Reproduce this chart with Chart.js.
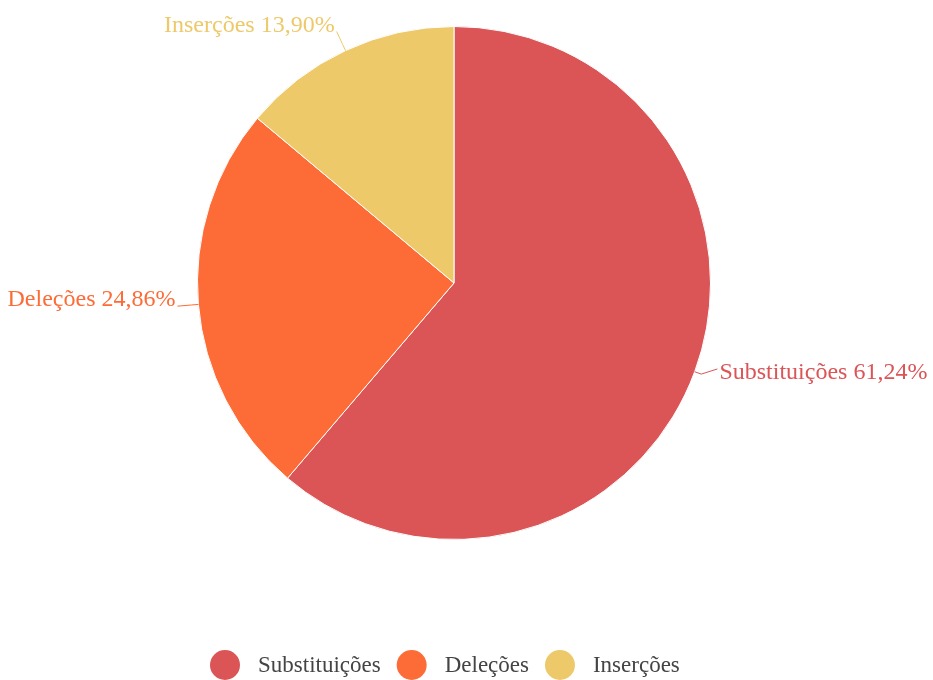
<!DOCTYPE html>
<html>
<head>
<meta charset="utf-8">
<title>Tipos de erro</title>
<script src="https://cdn.jsdelivr.net/npm/chart.js@4.4.1/dist/chart.umd.min.js"></script>
<style>
  html, body { margin: 0; padding: 0; background: #fff; }
  canvas { display: block; }
</style>
</head>
<body>
<canvas id="erroChart" width="933" height="680"></canvas>
<script>
const categorias = ['Substituições', 'Deleções', 'Inserções'];
const percentuais = [61.24, 24.86, 13.90];
const cores = ['#DB5456', '#FD6B36', '#EDC96A'];

const fonteSerif = '"Liberation Serif", serif';

function formataPct(v) {
    return v.toFixed(2).replace('.', ',') + '%';
}

// rótulos externos com linha guia, na cor de cada fatia
const rotulosExternos = {
    id: 'rotulosExternos',
    afterDatasetsDraw(chart) {
        const ctx = chart.ctx;
        const arcs = chart.getDatasetMeta(0).data;
        ctx.save();
        ctx.font = '24px ' + fonteSerif;
        arcs.forEach((arc, i) => {
            const p = arc.getProps(['x', 'y', 'startAngle', 'endAngle', 'outerRadius'], true);
            const meio = (p.startAngle + p.endAngle) / 2;
            const dx = Math.cos(meio), dy = Math.sin(meio);
            const direita = dx >= 0;
            const x1 = p.x + dx * p.outerRadius, y1 = p.y + dy * p.outerRadius;
            const xm = p.x + dx * (p.outerRadius + 7), ym = p.y + dy * (p.outerRadius + 7);
            const x2 = p.x + dx * (p.outerRadius + 21), y2 = p.y + dy * (p.outerRadius + 21);
            ctx.strokeStyle = cores[i];
            ctx.lineWidth = 1;
            ctx.beginPath();
            ctx.moveTo(x1, y1);
            ctx.lineTo(xm, ym);
            // do lado direito a linha sobe até o meio do texto
            ctx.lineTo(x2 + (direita ? 3 : 0), direita ? y2 - 10 : y2);
            ctx.stroke();
            ctx.fillStyle = cores[i];
            ctx.textAlign = direita ? 'left' : 'right';
            ctx.textBaseline = 'alphabetic';
            const texto = categorias[i] + ' ' + formataPct(percentuais[i]);
            ctx.fillText(texto, x2 + (direita ? 5 : -2), y2);
        });
        ctx.restore();
    }
};

// legenda desenhada à mão, com círculos grandes
const legendaCirculos = {
    id: 'legendaCirculos',
    afterDraw(chart) {
        const ctx = chart.ctx;
        ctx.save();
        ctx.font = '23px ' + fonteSerif;
        const raio = 15, gapTexto = 33, gapItem = 31;
        let x = 210;
        const y = 665;
        categorias.forEach((c, i) => {
            const cx = x + raio;
            ctx.fillStyle = cores[i];
            ctx.beginPath();
            ctx.arc(cx, y, raio, 0, Math.PI * 2);
            ctx.fill();
            ctx.fillStyle = '#444';
            ctx.textAlign = 'left';
            ctx.textBaseline = 'middle';
            ctx.fillText(c, cx + gapTexto, y + 1);
            x = cx + gapTexto + ctx.measureText(c).width + gapItem - raio;
        });
        ctx.restore();
    }
};

Chart.defaults.font.family = fonteSerif;

new Chart(document.getElementById('erroChart'), {
    type: 'pie',
    data: {
        labels: categorias,
        datasets: [{
            data: percentuais,
            backgroundColor: cores,
            borderColor: '#fff',
            borderWidth: 1,
            hoverOffset: 0
        }]
    },
    options: {
        responsive: false,
        devicePixelRatio: 1,
        animation: false,
        layout: {
            padding: { left: 197, right: 222, top: 26, bottom: 140 }
        },
        plugins: {
            legend: { display: false },
            tooltip: { enabled: false }
        }
    },
    plugins: [rotulosExternos, legendaCirculos]
});
</script>
</body>
</html>
